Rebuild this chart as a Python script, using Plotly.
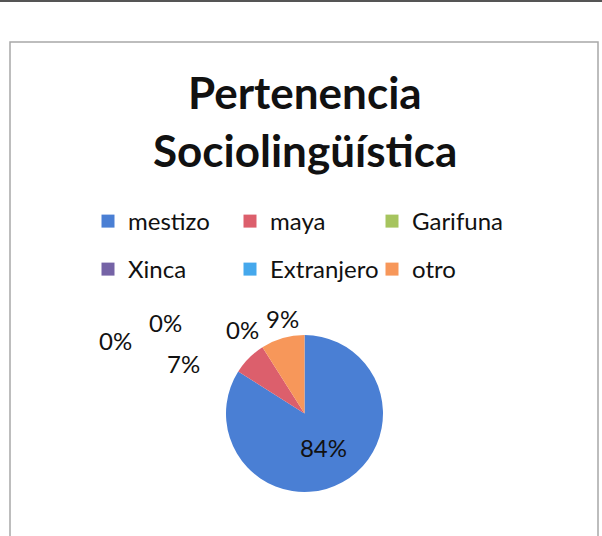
import plotly.graph_objects as go

W, H = 602, 536

categories = ["mestizo", "maya", "Garifuna", "Xinca", "Extranjero", "otro"]
values = [84, 7, 0, 0, 0, 9]
colors = ["#4a7fd4", "#dc5f6c", "#a6c45e", "#7563a6", "#45a8ec", "#f7975a"]
label_text = ["84%", "7%", "0%", "0%", "0%", "9%"]
# outside label positions (pixels), Excel "best fit" placement
outside_pos = {"maya": (183, 363), "Garifuna": (115, 340), "Xinca": (166, 322),
               "Extranjero": (242, 329), "otro": (282, 318)}

FONT = "Lato"
LBL = 24

def px(x, y):
    return x / W, 1 - y / H

pie_text = [t if c == "mestizo" else "" for c, t in zip(categories, label_text)]

fig = go.Figure(go.Pie(
    labels=categories,
    values=values,
    marker=dict(colors=colors, line=dict(width=0)),
    sort=False,
    direction="clockwise",
    rotation=0,
    text=pie_text,
    textinfo="text",
    textposition="inside",
    insidetextorientation="horizontal",
    textfont=dict(family=FONT, size=LBL, color="#111"),
    domain=dict(x=[226 / W, 383 / W], y=[1 - 492 / H, 1 - 335 / H]),
    hoverinfo="label+percent",
    showlegend=False,
))

# legend entries (two rows of three, as in the Excel legend)
for i, (c, col) in enumerate(zip(categories, colors)):
    fig.add_trace(go.Scatter(
        x=[None], y=[None], mode="markers", name=c,
        marker=dict(symbol="square", size=13, color=col),
        legend="legend" if i < 3 else "legend2",
        hoverinfo="skip",
    ))

annotations = []
for c, t in zip(categories, label_text):
    if c in outside_pos:
        x, y = px(*outside_pos[c])
        annotations.append(dict(x=x, y=y, xref="paper", yref="paper", text=t,
                                showarrow=False, xanchor="center", yanchor="middle",
                                font=dict(family=FONT, size=LBL, color="#111")))

annotations.append(dict(x=px(305, 0)[0], y=px(0, 92)[1], xref="paper", yref="paper",
                        text="<b>Pertenencia</b>", showarrow=False,
                        xanchor="center", yanchor="middle",
                        font=dict(family=FONT, size=44, color="#111")))
annotations.append(dict(x=px(305, 0)[0], y=px(0, 150)[1], xref="paper", yref="paper",
                        text="<b>Sociolingüística</b>", showarrow=False,
                        xanchor="center", yanchor="middle",
                        font=dict(family=FONT, size=44, color="#111")))

shapes = [
    dict(type="rect", xref="paper", yref="paper", x0=10 / W, x1=598 / W,
         y0=-0.05, y1=1 - 42 / H, line=dict(color="#a8a8a8", width=1.5)),
    dict(type="line", xref="paper", yref="paper", x0=0, x1=1, y0=1 - 1 / H, y1=1 - 1 / H,
         line=dict(color="#555", width=2)),
]

leg_common = dict(orientation="h", xanchor="left", yanchor="top",
                  entrywidth=97, entrywidthmode="pixels",
                  font=dict(family=FONT, size=LBL, color="#111"),
                  bgcolor="rgba(0,0,0,0)", itemclick=False, itemdoubleclick=False)

fig.update_layout(
    width=W, height=H,
    margin=dict(l=0, r=0, t=0, b=0),
    paper_bgcolor="white",
    plot_bgcolor="white",
    xaxis=dict(visible=False),
    yaxis=dict(visible=False),
    annotations=annotations,
    shapes=shapes,
    legend=dict(x=88 / W, y=1 - 199 / H, **leg_common),
    legend2=dict(x=88 / W, y=1 - 247 / H, **leg_common),
)

fig.write_html("out.html", config={"displayModeBar": False},
               post_script="document.body.style.margin='0';document.body.style.padding='0';")
